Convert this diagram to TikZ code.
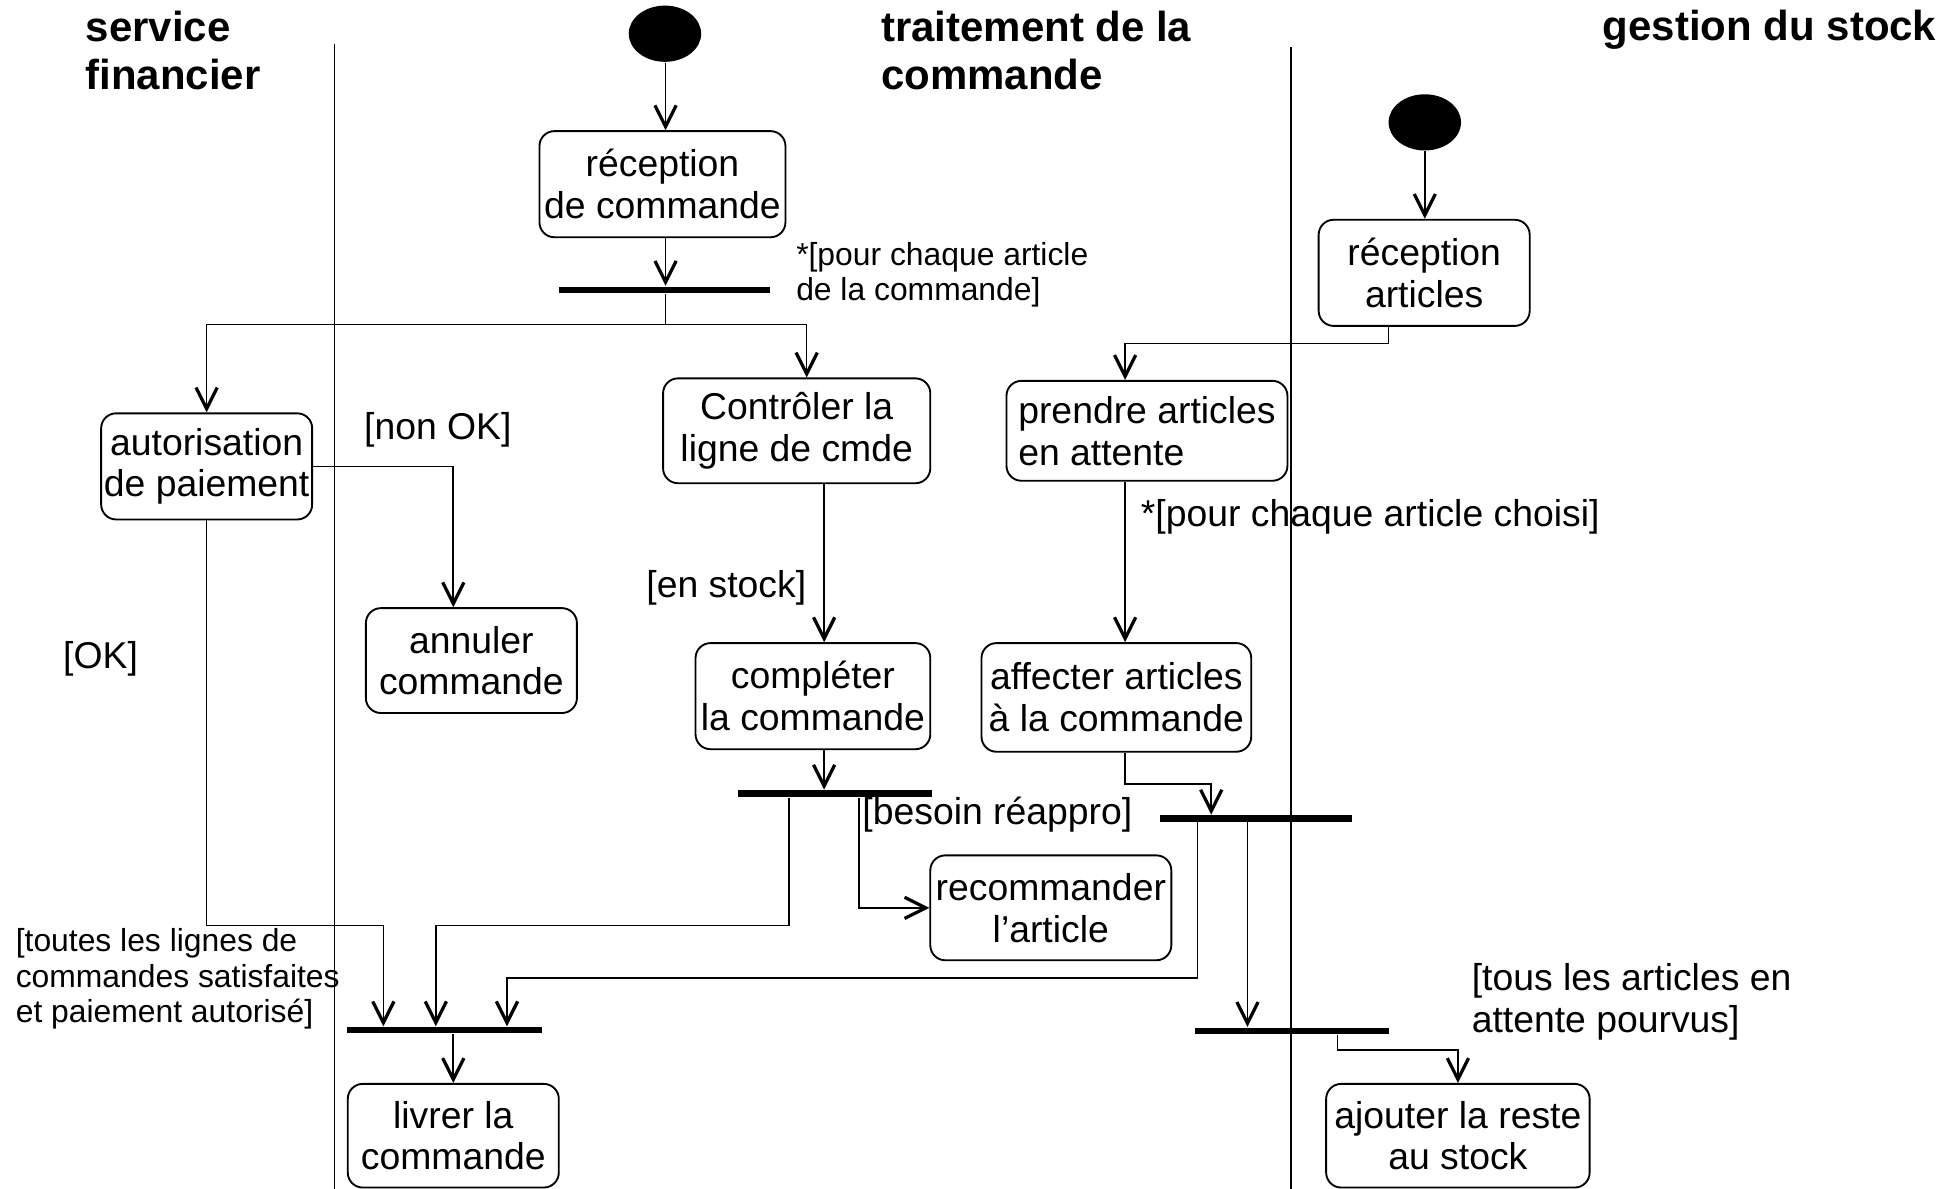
\documentclass[tikz,border=0pt]{standalone}
\usepackage{fontspec}
\setmainfont{Liberation Sans}
\usetikzlibrary{arrows.meta,shapes.geometric}
\newcommand\dgbody{\fontsize{29.9pt}{33.5pt}\selectfont}
\newcommand\dgsmall{\fontsize{25.5pt}{28.5pt}\selectfont}
\newcommand\dgtitle{\fontsize{33.6pt}{39pt}\selectfont\bfseries}
\begin{document}
\begin{tikzpicture}[x=1pt,y=-1pt,
  line width=1.3pt,
  act/.style={draw, rounded corners=12pt, line width=1.5pt, inner sep=0pt, align=center, font=\dgbody},
  bar/.style={fill=black, draw=none, minimum height=5pt, inner sep=0pt},
  startnode/.style={ellipse, fill=black, draw=none, minimum width=58pt, minimum height=45pt, inner sep=0pt},
  arr/.style={-{Straight Barb[length=17pt,width=17pt,line width=2.6pt]}},
  lbl/.style={anchor=west, align=left, inner sep=0pt, font=\dgbody},
  smalllbl/.style={anchor=west, align=left, inner sep=0pt, font=\dgsmall},
  lanetitle/.style={anchor=west, align=left, inner sep=0pt, font=\dgtitle}]
\useasboundingbox (0,0) rectangle (1568,952);

% swimlane separators
\draw (268,35) -- (268,952);
\draw (1034,38) -- (1034,952);

% lane titles
\node[lanetitle] (t1) at (68,40.5) {service\\financier};
\node[lanetitle] (t2) at (705,40.5) {traitement de la\\commande};
\node[lanetitle] (t3) at (1283,24) {gestion du stock};

% nodes
\node[startnode] (start1) at (532.5,27) {};
\node[act, minimum width=197pt, minimum height=85pt] (recv) at (530.5,147.5) {réception\\de commande};
\node[bar, minimum width=169pt] (fork1) at (532.5,232) {};
\node[act, minimum width=169pt, minimum height=85pt] (auth) at (165.5,373.5) {autorisation\\de paiement};
\node[act, minimum width=214pt, minimum height=84pt] (ctrl) at (638,345) {Contrôler la\\ligne de cmde};
\node[act, minimum width=169pt, minimum height=84pt] (annul) at (377.5,529) {annuler\\commande};
\node[act, minimum width=188pt, minimum height=85pt] (compl) at (651,557.5) {compléter\\la commande};
\node[bar, minimum width=155pt] (fork2) at (668.5,635.5) {};
\node[act, minimum width=193pt, minimum height=84pt] (recom) at (841.5,727) {recommander\\l’article};
\node[startnode] (start2) at (1141,98) {};
\node[act, minimum width=169pt, minimum height=85pt] (recart) at (1140.5,218.5) {réception\\articles};
\node[act, minimum width=225pt, minimum height=80pt, align=left] (prendre) at (918.5,345) {prendre articles\\en attente};
\node[act, minimum width=216pt, minimum height=87pt] (affect) at (894,558.5) {affecter articles\\à la commande};
\node[bar, minimum width=154pt] (fork3) at (1006,655.5) {};
\node[bar, minimum width=156pt] (join1) at (356,825) {};
\node[act, minimum width=169pt, minimum height=83pt] (livrer) at (363,909.5) {livrer la\\commande};
\node[bar, minimum width=155pt] (fork4) at (1034.5,825.5) {};
\node[act, minimum width=211pt, minimum height=83pt] (ajout) at (1167.5,909.5) {ajouter la reste\\au stock};

% labels
\node[smalllbl] (l1) at (637,220) {*[pour chaque article\\de la commande]};
\node[lbl] (l2) at (291,344) {[non OK]};
\node[lbl] (l3) at (50,528) {[OK]};
\node[lbl] (l4) at (517,471) {[en stock]};
\node[lbl] (l5) at (913,414) {*[pour chaque article choisi]};
\node[lbl] (l6) at (690,652) {[besoin réappro]};
\node[smalllbl] (l7) at (12,784) {[toutes les lignes de\\commandes satisfaites\\et paiement autorisé]};
\node[lbl] (l8) at (1178,802) {[tous les articles en\\attente pourvus]};

% helper coordinates
\coordinate (c1) at (533,0);
\coordinate (split) at (533,260);
\coordinate (cx646) at (646,0);
\coordinate (cx363) at (363,0);
\coordinate (cx660) at (660,0);
\coordinate (j1a) at (307,741);
\coordinate (f2a) at (632,741);
\coordinate (f2b) at (349,741);
\coordinate (f2c) at (688,0);
\coordinate (ra) at (1112,275);
\coordinate (rb) at (901,275);
\coordinate (fa) at (901,628);
\coordinate (fb) at (970,628);
\coordinate (fc) at (959,783);
\coordinate (fd) at (406,783);
\coordinate (cx999) at (999,0);
\coordinate (ga) at (1071,841);
\coordinate (cx1141) at (1141,0);

% connectors
\draw[arr] (c1 |- start1.south) -- (c1 |- recv.north);
\draw[arr] (c1 |- recv.south) -- (c1 |- fork1.north);
\draw (c1 |- fork1.south) -- (split);
\draw[arr] (split) -| (auth.north);
\draw[arr] (split) -| (cx646 |- ctrl.north);
\draw[arr] (auth.east) -| (cx363 |- annul.north);
\draw[arr] (auth.south) |- (j1a) -- (j1a |- join1.north);
\draw[arr] (cx660 |- ctrl.south) -- (cx660 |- compl.north);
\draw[arr] (cx660 |- compl.south) -- (cx660 |- fork2.north);
\draw[arr] (f2a |- fork2.south) -- (f2a) -- (f2b) -- (f2b |- join1.north);
\draw[arr] (f2c |- fork2.south) |- (recom.west);
\draw[arr] (cx1141 |- start2.south) -- (cx1141 |- recart.north);
\draw[arr] (ra |- recart.south) -- (ra) -- (rb) -- (rb |- prendre.north);
\draw[arr] (rb |- prendre.south) -- (rb |- affect.north);
\draw[arr] (fa |- affect.south) -- (fa) -- (fb) -- (fb |- fork3.north);
\draw[arr] (fc |- fork3.south) -- (fc) -- (fd) -- (fd |- join1.north);
\draw[arr] (cx999 |- fork3.south) -- (cx999 |- fork4.north);
\draw[arr] (livrer.north |- join1.south) -- (livrer.north);
\draw[arr] (ga |- fork4.south) -- (ga) -| (ajout.north);
\end{tikzpicture}
\end{document}
